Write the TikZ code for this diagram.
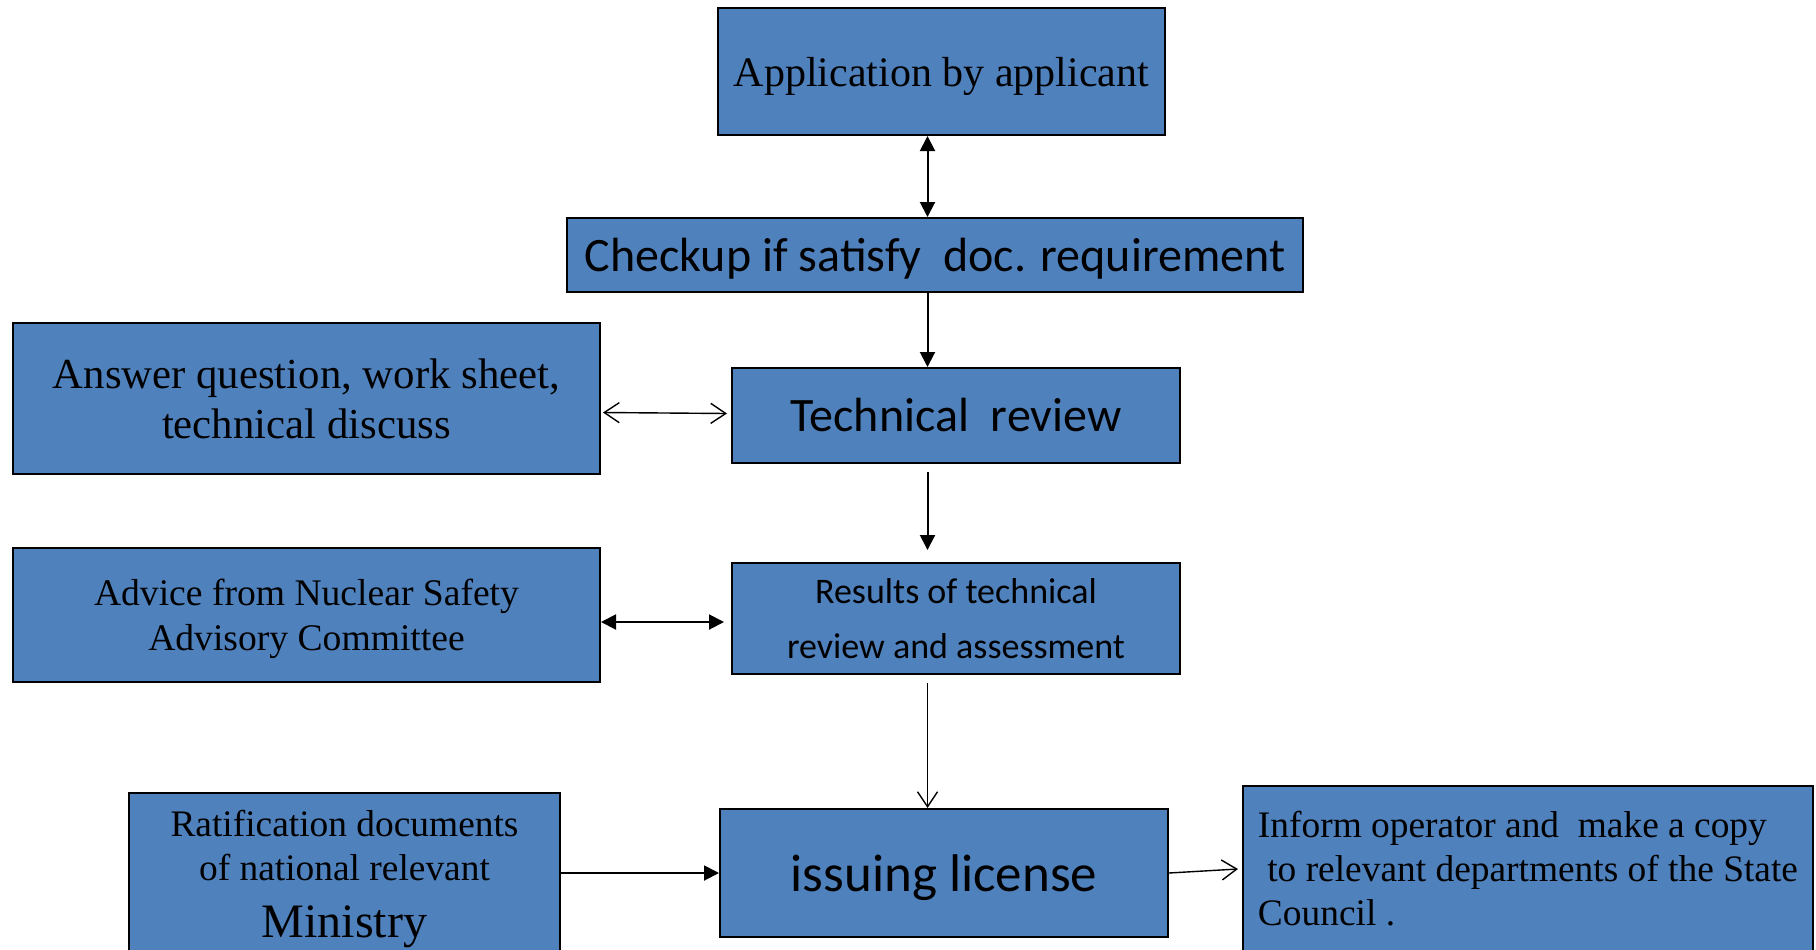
\documentclass[tikz,border=0pt]{standalone}
\usepackage{fontspec}
\setmainfont{Liberation Serif}
\newfontfamily\calibri{Carlito}
\usepackage{xcolor}
\usepackage{tikz}
\usetikzlibrary{arrows.meta}
\usetikzlibrary{calc}
\definecolor{boxblue}{HTML}{4F81BD}

\begin{document}
\begin{tikzpicture}[x = 0.5pt, y = -0.5pt,
        bluebox/.style = {draw = black, line width = 1pt, fill = boxblue, inner sep = 0pt, align = center},
        fullboth/.style = {line width = 1pt, {Triangle[length = 7.5pt, width = 7.5pt]}-{Triangle[length = 7.5pt, width = 7.5pt]}},
        fullone/.style = {line width = 1pt, -{Triangle[length = 7.5pt, width = 7.5pt]}},
        openboth/.style = {line width = 0.7pt, {Straight Barb[length = 7.5pt, width = 10pt]}-{Straight Barb[length = 7.5pt, width = 10pt]}},
        openone/.style = {line width = 0.7pt, -{Straight Barb[length = 7.5pt, width = 10pt]}}]
        \clip (0, 0) rectangle (1816, 949);

        \node[bluebox, minimum width = 223.5pt, minimum height = 63.5pt, text depth = 0pt, font = \fontsize{21}{25}\selectfont]
            (app) at (941.5, 71.5) {Application by applicant};
        \node[bluebox, minimum width = 368pt, minimum height = 37pt, text depth = 0pt, font = \calibri\fontsize{24}{28}\selectfont]
            (check) at (935, 255) {Checkup if satisfy\ \ doc. requirement};
        \node[bluebox, minimum width = 224pt, minimum height = 47.5pt, font = \calibri\fontsize{24}{28}\selectfont]
            (review) at (956, 415.5) {Technical\ \ review};
        \node[bluebox, minimum width = 224pt, minimum height = 55.5pt, font = \calibri\fontsize{18}{27}\selectfont]
            (result) at (956, 618.5) {Results of technical\\[0.5pt]review and assessment};
        \node[bluebox, minimum width = 224pt, minimum height = 64pt, text depth = 0pt, font = \calibri\fontsize{26.5}{30}\selectfont]
            (license) at (944, 873) {issuing license};

        \node[bluebox, minimum width = 293.5pt, minimum height = 75.5pt, font = \fontsize{21.4}{25}\selectfont]
            (answer) at (306.5, 398.5) {Answer question, work sheet,\\technical discuss};
        \node[bluebox, minimum width = 293.5pt, minimum height = 67pt, text depth = 0pt, font = \fontsize{18.8}{22.5}\selectfont]
            (advice) at (306.5, 615) {Advice from Nuclear Safety\\Advisory Committee};
        \node[bluebox, minimum width = 215.5pt, minimum height = 85.5pt, font = \fontsize{18.7}{22}\selectfont]
            (ratify) at (344.5, 878.5) {Ratification documents\\of national relevant\\[6.5pt]\fontsize{24}{26}\selectfont Ministry};
        \node[bluebox, align = left, minimum width = 285pt, minimum height = 83pt, font = \fontsize{18.7}{22}\selectfont]
            (inform) at (1528, 869) {Inform operator and\ \ make a copy\\\ to relevant departments of the State\\Council .};

        % main line
        \coordinate (spine) at (927.5, 0);
        \draw[fullboth] (app.south -| spine) -- (check.north -| spine);
        \draw[fullone] (check.south -| spine) -- (review.north -| spine);
        \draw[fullone] ($(review.south -| spine) + (0, 8)$) -- ($(result.north -| spine) + (0, -12)$);
        \draw[openone] ($(result.south -| spine) + (0, 8)$) -- (license.north -| spine);

        % side boxes
        \draw[openboth] ($(answer.east) + (2, 14)$) -- ($(review.west) + (-4, -2)$);
        \draw[fullboth] ($(advice.east) + (0, 7)$) -- ($(result.west) + (-7, 3.5)$);
        \draw[fullone] (ratify.east |- license.west) -- (license.west);
        \draw[openone] (license.east) -- ($(inform.west) + (-4, 0)$);
    \end{tikzpicture}
\end{document}
